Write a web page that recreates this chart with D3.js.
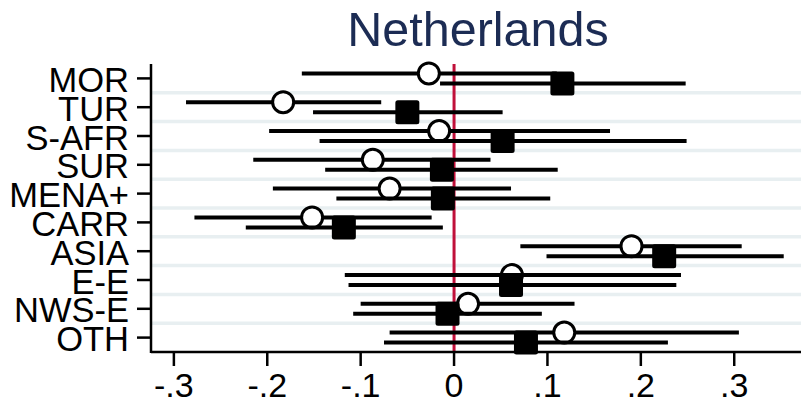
<!DOCTYPE html>
<html>
<head>
<meta charset="utf-8">
<script src="https://cdn.jsdelivr.net/npm/d3@7"></script>
<style>
  body { margin: 0; background: #fff; }
  text { font-family: "Liberation Sans", Arial, sans-serif; }
</style>
</head>
<body>
<div id="chart"></div>
<script>
const categories = ['MOR', 'TUR', 'S-AFR', 'SUR', 'MENA+', 'CARR', 'ASIA', 'E-E', 'NWS-E', 'OTH'];

// hollow circle series: estimate, lower, upper
const circleEst = [-0.027, -0.183, -0.016, -0.087, -0.069, -0.152, 0.190, 0.062, 0.015, 0.118];
const circleLo  = [-0.163, -0.287, -0.198, -0.215, -0.194, -0.278, 0.071, -0.117, -0.100, -0.069];
const circleHi  = [0.110, -0.078, 0.167, 0.039, 0.061, -0.024, 0.308, 0.243, 0.129, 0.305];

// filled square series
const squareEst = [0.116, -0.050, 0.052, -0.013, -0.012, -0.118, 0.225, 0.061, -0.007, 0.077];
const squareLo  = [-0.015, -0.151, -0.144, -0.138, -0.126, -0.223, 0.099, -0.113, -0.108, -0.075];
const squareHi  = [0.248, 0.052, 0.249, 0.111, 0.103, -0.012, 0.353, 0.238, 0.094, 0.229];

const xTicks = [-0.3, -0.2, -0.1, 0, 0.1, 0.2, 0.3];
const xTickLabels = ['-.3', '-.2', '-.1', '0', '.1', '.2', '.3'];
const title = 'Netherlands';

const width = 801, height = 404;
const m = { left: 151, right: 801, top: 64, bottom: 352 };

const svg = d3.select('#chart').append('svg')
  .attr('width', width)
  .attr('height', height);

const x = d3.scaleLinear().domain([-0.3245, 0.3715]).range([m.left, m.right]);
const y = d3.scalePoint().domain(categories).range([m.top, m.bottom]).padding(0.5);
const step = y.step();
const off = 5;

// gridlines between categories
svg.append('g').selectAll('line')
  .data(categories.slice(1))
  .enter().append('line')
  .attr('x1', m.left).attr('x2', m.right)
  .attr('y1', d => y(d) - step / 2)
  .attr('y2', d => y(d) - step / 2)
  .attr('stroke', '#e8eff1')
  .attr('stroke-width', 3.5);

// reference line at zero
svg.append('line')
  .attr('x1', x(0)).attr('x2', x(0))
  .attr('y1', m.top).attr('y2', m.bottom)
  .attr('stroke', '#c0103a')
  .attr('stroke-width', 3);

function series(est, lo, hi, dy, kind) {
  const g = svg.append('g');
  g.selectAll('line')
    .data(categories)
    .enter().append('line')
    .attr('x1', (d, i) => x(lo[i]))
    .attr('x2', (d, i) => x(hi[i]))
    .attr('y1', d => y(d) + dy)
    .attr('y2', d => y(d) + dy)
    .attr('stroke', '#000')
    .attr('stroke-width', 4);

  if (kind === 'circle') {
    g.selectAll('circle')
      .data(categories)
      .enter().append('circle')
      .attr('cx', (d, i) => x(est[i]))
      .attr('cy', d => y(d) + dy)
      .attr('r', 10.5)
      .attr('fill', '#fff')
      .attr('stroke', '#000')
      .attr('stroke-width', 3);
  } else {
    const s = 24;
    g.selectAll('rect')
      .data(categories)
      .enter().append('rect')
      .attr('x', (d, i) => x(est[i]) - s / 2)
      .attr('y', d => y(d) + dy - s / 2)
      .attr('width', s).attr('height', s)
      .attr('rx', 2.5)
      .attr('fill', '#000');
  }
}

series(circleEst, circleLo, circleHi, -off, 'circle');
series(squareEst, squareLo, squareHi, off, 'square');

// axes
const yAxis = svg.append('g');
yAxis.append('line')
  .attr('x1', m.left).attr('x2', m.left)
  .attr('y1', m.top).attr('y2', m.bottom + 1)
  .attr('stroke', '#000').attr('stroke-width', 2.5);
yAxis.selectAll('.tick')
  .data(categories)
  .enter().append('line')
  .attr('x1', m.left - 14).attr('x2', m.left)
  .attr('y1', d => y(d)).attr('y2', d => y(d))
  .attr('stroke', '#000').attr('stroke-width', 2.5);
yAxis.selectAll('text')
  .data(categories)
  .enter().append('text')
  .attr('x', 129)
  .attr('y', d => y(d) + 13.5)
  .attr('text-anchor', 'end')
  .style('font-size', '34.5px')
  .text(d => d);

const xAxis = svg.append('g');
xAxis.append('line')
  .attr('x1', m.left).attr('x2', m.right)
  .attr('y1', m.bottom).attr('y2', m.bottom)
  .attr('stroke', '#000').attr('stroke-width', 2.5);
xAxis.selectAll('.tick')
  .data(xTicks)
  .enter().append('line')
  .attr('x1', d => x(d)).attr('x2', d => x(d))
  .attr('y1', m.bottom).attr('y2', m.bottom + 14)
  .attr('stroke', '#000').attr('stroke-width', 2.5);
xAxis.selectAll('text')
  .data(xTicks)
  .enter().append('text')
  .attr('x', d => x(d))
  .attr('y', 397)
  .attr('text-anchor', 'middle')
  .style('font-size', '34px')
  .text((d, i) => xTickLabels[i]);

svg.append('text')
  .attr('x', (m.left + m.right) / 2 + 2)
  .attr('y', 46)
  .attr('text-anchor', 'middle')
  .attr('fill', '#1c2c54')
  .style('font-size', '48.5px')
  .text(title);
</script>
</body>
</html>
